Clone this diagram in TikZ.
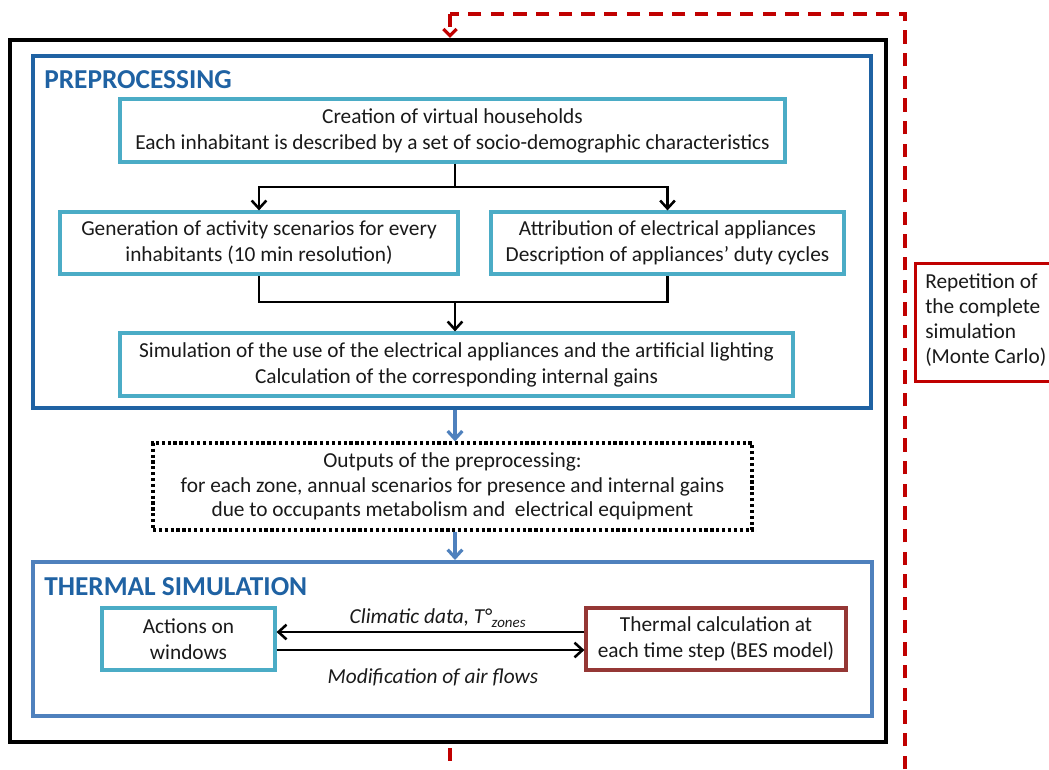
\documentclass[tikz,border=0pt]{standalone}
\usepackage{fontspec}
\setmainfont{Carlito}
\usetikzlibrary{arrows.meta}
\definecolor{dkblue}{HTML}{1F62A3}
\definecolor{mdblue}{HTML}{4F81BD}
\definecolor{ltblue}{HTML}{4BACC6}
\definecolor{dkred}{HTML}{953735}
\definecolor{rrred}{HTML}{C00000}
\definecolor{txt}{HTML}{1A1A1A}
\tikzset{
  box/.style={draw=ltblue, line width=2.4pt, fill=white, inner sep=0pt, align=center, text=txt, font=\fontsize{16}{19.5}\selectfont},
  bigbox/.style={draw, line width=3pt, inner sep=0pt},
  title/.style={anchor=west, inner sep=0pt, font=\fontsize{20.5}{22}\selectfont\bfseries},
  conn/.style={line width=1.9pt, black},
  arr/.style={conn, -{Straight Barb[length=6pt, width=11pt, line width=1.9pt]}},
  barr/.style={line width=2.4pt, mdblue, -{Straight Barb[length=6pt, width=11pt, line width=2.4pt]}},
  rdash/.style={line width=2.4pt, rrred, dash pattern=on 10pt off 7pt},
  lab/.style={inner sep=0pt, text=txt, font=\fontsize{16}{18}\selectfont\itshape}
}
\begin{document}
\begin{tikzpicture}[x=0.75pt,y=-0.75pt]
\useasboundingbox (0,0) rectangle (1049,769);
% outer frame
\node[bigbox, draw=black, line width=3.2pt, minimum width=0.75*876pt, minimum height=0.75*702pt] (outer) at (448,391) {};
% preprocessing
\node[bigbox, draw=dkblue, minimum width=0.75*838pt, minimum height=0.75*352pt] (pre) at (452,232) {};
\node[title, text=dkblue] (pret) at (44,80) {PREPROCESSING};
\node[box, minimum width=0.75*665pt, minimum height=0.75*63pt] (b1) at (452.5,130.5) {Creation of virtual households\\Each inhabitant is described by a set of socio-demographic characteristics};
\node[box, minimum width=0.75*398pt, minimum height=0.75*62pt] (b2) at (259,243) {Generation of activity scenarios for every\\inhabitants (10 min resolution)};
\node[box, minimum width=0.75*353pt, minimum height=0.75*62pt] (b3) at (667.5,243) {Attribution of electrical appliances\\Description of appliances’ duty cycles};
\node[box, minimum width=0.75*673pt, minimum height=0.75*63pt] (b4) at (456.5,364.5) {Simulation of the use of the electrical appliances and the artificial lighting\\Calculation of the corresponding internal gains};
\coordinate (m1) at (455,187);
\coordinate (m2) at (455,302);
\draw[conn] (b1.south -| m1) -- (m1);
\draw[arr] (m1) -| (b2.north);
\draw[arr] (m1) -| (b3.north);
\draw[conn] (b2.south) |- (m2) -| (b3.south);
\draw[arr] (m2) -- (m2 |- b4.north);
% outputs
\node[box, draw=black, line width=2.4pt, dotted, minimum width=0.75*599pt, minimum height=0.75*87pt, font=\fontsize{16}{18.5}\selectfont] (out) at (452.5,486.5) {Outputs of the preprocessing:\\for each zone, annual scenarios for presence and internal gains\\due to occupants metabolism and~ electrical equipment};
\draw[barr] (pre.south -| m2) -- (out.north -| m2);
% thermal simulation
\node[bigbox, draw=mdblue, minimum width=0.75*839pt, minimum height=0.75*154pt] (th) at (452.5,639) {};
\draw[barr] (out.south -| m2) -- (th.north -| m2);
\node[title, text=dkblue] (tht) at (44,587) {THERMAL SIMULATION};
\node[box, minimum width=0.75*173pt, minimum height=0.75*62pt] (act) at (188.5,639) {Actions on\\windows};
\node[box, draw=dkred, minimum width=0.75*260pt, minimum height=0.75*62pt] (tc) at (716,639) {Thermal calculation at\\each time step (BES model)};
\draw[arr] (tc.west |- 0,632) -- (act.east |- 0,632);
\draw[arr] (act.east |- 0,650) -- (tc.west |- 0,650);
\node[lab] (l1) at (438,618) {Climatic data, T°\textsubscript{zones}};
\node[lab] (l2) at (433,677) {Modification of air flows};
% repetition loop
\coordinate (r1) at (450,14);
\coordinate (r2) at (905,14);
\coordinate (r3) at (905,769);
\coordinate (r4) at (450,769);
\draw[rdash] (r3) -- (r2) -- (r1);
\draw[rdash, -{Straight Barb[length=5pt, width=10pt, line width=2.4pt]}] (r1) -- (r1 |- outer.north);
\draw[rdash] (outer.south -| r1) ++(0,4) -- (r4);
\node[draw=rrred, line width=2.4pt, fill=white, inner sep=0pt, minimum width=0.75*145pt, minimum height=0.75*118pt, anchor=north west] (rep) at (914,262) {};
\node[align=left, anchor=west, inner sep=0pt, text=txt, font=\fontsize{16}{18.75}\selectfont] (rept) at (925,320) {Repetition of\\the complete\\simulation\\(Monte Carlo)};
\end{tikzpicture}
\end{document}
